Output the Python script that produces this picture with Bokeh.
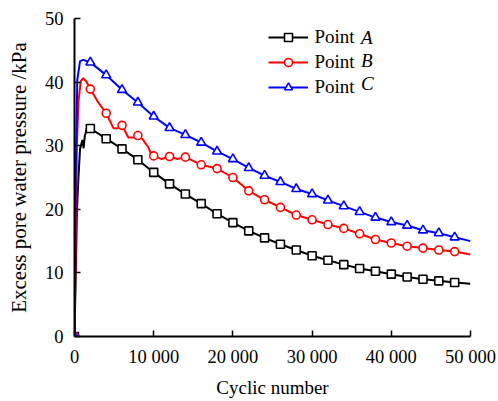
from bokeh.plotting import figure
from bokeh.models import Range1d, Legend, LegendItem, Label, FixedTicker
from bokeh.embed import file_html
from bokeh.resources import INLINE

# ---- data ----
A_cycles = [0, 150, 300, 500, 700, 1000, 1150, 1300, 1600,
            2000, 4000, 6000, 8000, 10000, 12000, 14000, 16000, 18000, 20000,
            22000, 24000, 26000, 28000, 30000, 32000, 34000, 36000, 38000, 40000,
            42000, 44000, 46000, 48000, 50000]
A_pressure = [0, 9, 19.5, 25, 29.5, 30.9, 29.6, 31.5, 32.9,
              32.7, 31.1, 29.5, 27.8, 25.8, 24.0, 22.4, 20.9, 19.3, 17.9,
              16.6, 15.5, 14.5, 13.6, 12.7, 12.0, 11.3, 10.7, 10.25, 9.8,
              9.35, 9.0, 8.75, 8.5, 8.3]

B_cycles = [0, 150, 300, 500, 800, 1100, 1500, 2000, 3000, 4000,
            4900, 5400, 6000, 6800, 7400, 8000, 8600, 9300, 9700, 10000,
            11000, 12000, 13000, 14000, 15000, 16000,
            18000, 20000, 22000, 24000, 26000, 28000, 30000, 32000, 34000,
            36000, 38000, 40000, 42000, 44000, 46000, 48000, 50000]
B_pressure = [0, 15, 30, 37, 40.2, 40.6, 40.1, 38.9, 36.8, 35.1,
              32.8, 32.7, 33.2, 31.3, 31.3, 31.6, 31.0, 29.8, 28.6, 28.4,
              27.9, 28.3, 27.9, 28.2, 27.6, 27.0,
              26.4, 25.0, 22.9, 21.5, 20.3, 19.1, 18.35, 17.6, 17.0,
              16.15, 15.25, 14.7, 14.2, 13.9, 13.6, 13.35, 12.9]

C_cycles = [0, 150, 350, 700, 1100,
            2000, 4000, 6000, 8000, 10000, 12000, 14000, 16000, 18000, 20000,
            22000, 24000, 26000, 28000, 30000, 32000, 34000, 36000, 38000, 40000,
            42000, 44000, 46000, 48000, 50000]
C_pressure = [0, 25, 40.3, 43.3, 43.5,
              43.1, 41.1, 38.8, 36.8, 34.6, 32.8, 31.7, 30.5, 29.1, 27.9,
              26.5, 25.3, 24.3, 23.2, 22.4, 21.4, 20.5, 19.6, 18.7, 18.0,
              17.45, 16.7, 16.25, 15.6, 15.0]

marker_cycles = [0, 2000, 4000, 6000, 8000, 10000, 12000, 14000, 16000, 18000,
                 20000, 22000, 24000, 26000, 28000, 30000, 32000, 34000, 36000,
                 38000, 40000, 42000, 44000, 46000, 48000]

series_names = ["A", "B", "C"]
series_colors = ["#000000", "#ff0000", "#0000ff"]
series_markers = ["square", "circle", "triangle"]

x_ticks = [0, 10000, 20000, 30000, 40000, 50000]
x_tick_labels = ["0", "10 000", "20 000", "30 000", "40 000", "50 000"]
y_ticks = [0, 10, 20, 30, 40, 50]

FONT = "Liberation Serif"

p = figure(width=498, height=401, output_backend="svg", toolbar_location=None,
           x_range=Range1d(0, 50000), y_range=Range1d(0, 50),
           min_border_left=74, min_border_right=28, min_border_top=18,
           min_border_bottom=65)
p.outline_line_color = None
p.grid.visible = False
p.background_fill_color = "white"
p.border_fill_color = "white"

p.xaxis.ticker = FixedTicker(ticks=x_ticks)
p.xaxis.major_label_overrides = {t: l for t, l in zip(x_ticks, x_tick_labels)}
p.yaxis.ticker = FixedTicker(ticks=y_ticks)
p.xaxis.axis_label = "Cyclic number"
p.yaxis.axis_label = "Excess pore water pressure /kPa"
for ax in (p.xaxis, p.yaxis):
    ax.axis_line_width = 2
    ax.axis_line_color = "black"
    ax.major_tick_in = 6
    ax.major_tick_out = 0
    ax.major_tick_line_width = 1.5
    ax.minor_tick_line_color = None
    ax.major_label_text_font = FONT
    ax.major_label_text_font_size = "18.5px"
    ax.major_label_text_color = "black"
    ax.axis_label_text_font = FONT
    ax.axis_label_text_font_style = "normal"
    ax.axis_label_text_color = "black"
p.xaxis.major_label_standoff = 10
p.yaxis.major_label_standoff = 11
p.xaxis.axis_label_text_font_size = "19px"
p.yaxis.axis_label_text_font_size = "21px"
p.xaxis.axis_label_standoff = 7
p.yaxis.axis_label_standoff = 11

data = [(A_cycles, A_pressure), (B_cycles, B_pressure), (C_cycles, C_pressure)]
items = []
for (cx, cy), name, col, mk in zip(data, series_names, series_colors, series_markers):
    lr = p.line(cx, cy, line_color=col, line_width=2)
    lookup = dict(zip(cx, cy))
    mx = [c for c in marker_cycles if c in lookup]
    my = [lookup[c] for c in mx]
    size = 9 if mk == "triangle" else 8
    mr = p.scatter(mx, my, marker=mk, size=size, line_color=col,
                   fill_color="white", line_width=1.6)
    items.append(LegendItem(label="Point", renderers=[lr, mr]))

legend = Legend(items=items, location=(193.5, 238.4), padding=0, margin=0,
                border_line_color=None, background_fill_alpha=0,
                glyph_width=40, glyph_height=20, label_height=20, spacing=3,
                label_standoff=7, label_text_font=FONT,
                label_text_font_size="19px", label_text_color="black")
p.add_layout(legend)

row_y = [299.2, 276.2, 253.2]
for name, ry in zip(series_names, row_y):
    p.add_layout(Label(x=286.5, y=ry, x_units="screen", y_units="screen",
                       text=name, text_font=FONT, text_font_style="italic",
                       text_font_size="19px", text_baseline="middle",
                       text_color="black"))

open("out.html", "w").write(file_html(p, INLINE))
